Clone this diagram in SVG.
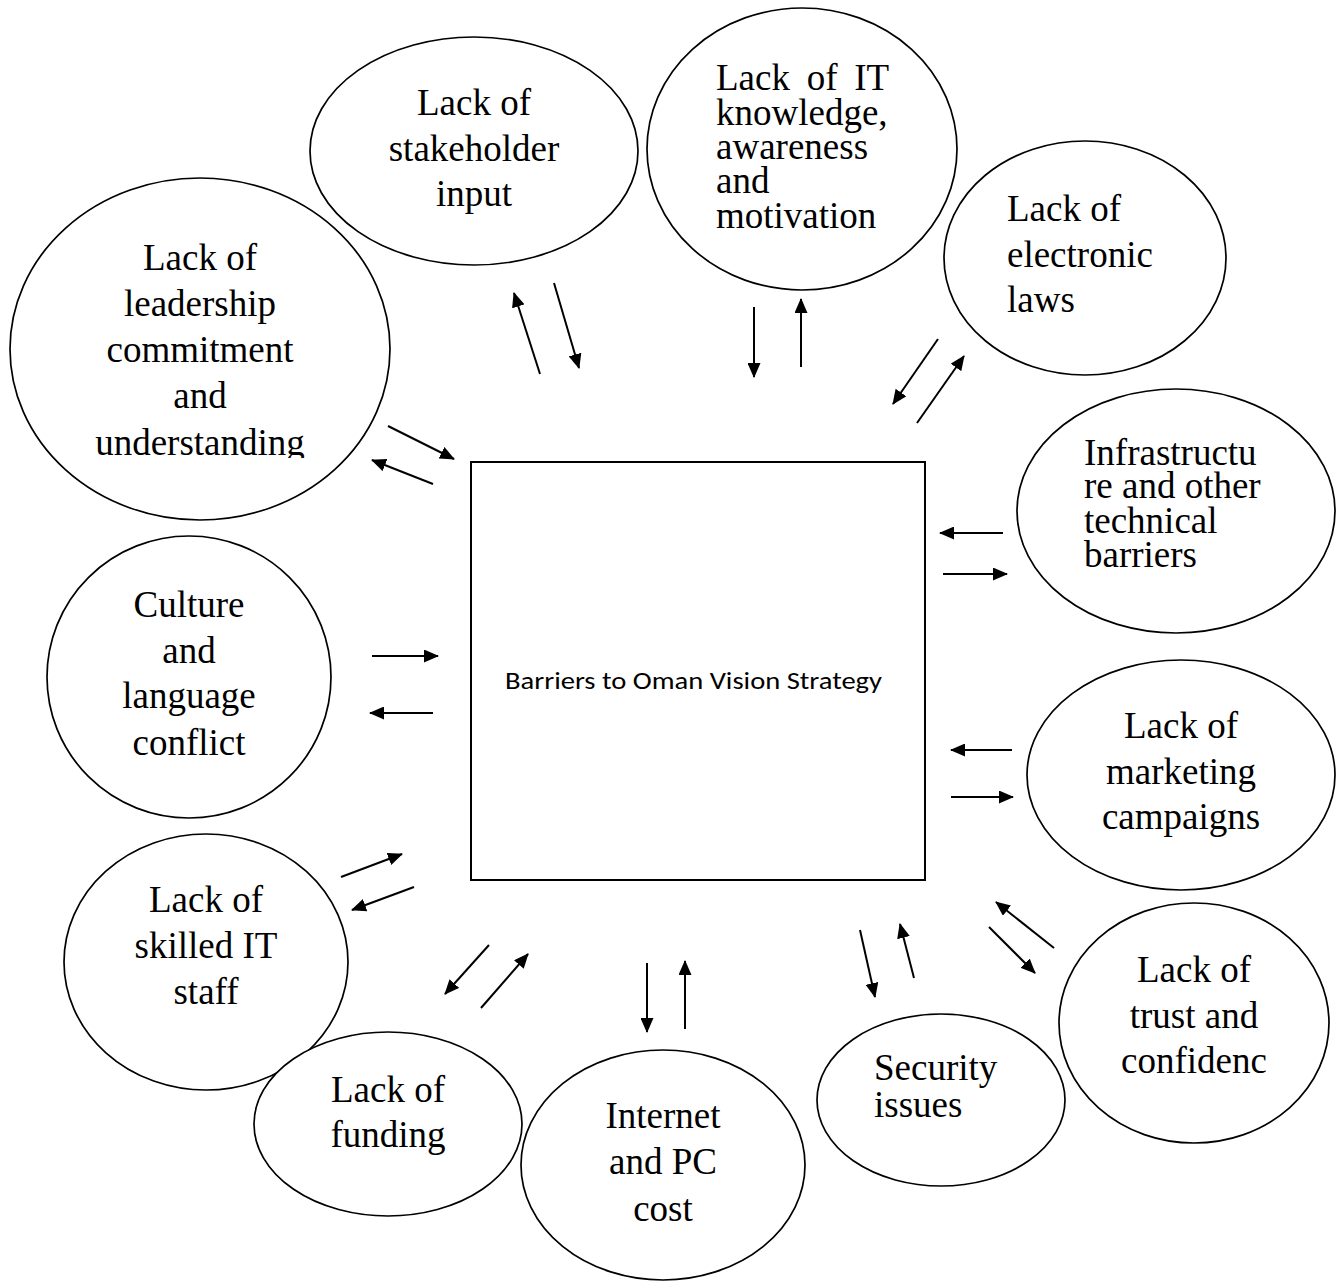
<svg xmlns="http://www.w3.org/2000/svg" width="1343" height="1283" viewBox="0 0 1343 1283">
  <defs>
    <style>
      .node { fill: #ffffff; stroke: #000000; stroke-width: 1.7; }
      .box { fill: #ffffff; stroke: #000000; stroke-width: 2; }
      .lbl { font-family: "Liberation Serif", "Times New Roman", serif; font-size: 37px; fill: #000000; }
      .mid { text-anchor: middle; }
      .core { font-family: Carlito, "Open Sans", "Noto Sans", sans-serif; font-size: 24px; fill: #000000; text-anchor: middle; }
      .link { stroke: #000000; stroke-width: 2; fill: none; marker-end: url(#head); }
    </style>
    <marker id="head" viewBox="0 0 15 13" refX="14" refY="6.5" markerWidth="15" markerHeight="13" markerUnits="userSpaceOnUse" orient="auto">
      <path d="M0,0 L15,6.5 L0,13 z" fill="#000000"/>
    </marker>
    <!-- the last line of the leadership label is cut off at its baseline -->
    <clipPath id="leadClip">
      <rect x="0" y="170" width="400" height="288"/>
    </clipPath>
  </defs>

  <rect x="0" y="0" width="1343" height="1283" fill="#ffffff"/>

  <!-- central box -->
  <g id="core">
    <rect class="box" x="471" y="462" width="454" height="418"/>
    <text class="core" x="693.5" y="689" textLength="377" lengthAdjust="spacingAndGlyphs">Barriers to Oman Vision Strategy</text>
  </g>

  <g id="leadership">
    <ellipse class="node" cx="200" cy="349" rx="190" ry="171"/>
    <g clip-path="url(#leadClip)">
      <text class="lbl mid" x="200" y="270">Lack of</text>
      <text class="lbl mid" x="200" y="316">leadership</text>
      <text class="lbl mid" x="200" y="362">commitment</text>
      <text class="lbl mid" x="200" y="408">and</text>
      <text class="lbl mid" x="200" y="455">understanding</text>
    </g>
  </g>

  <g id="stakeholder">
    <ellipse class="node" cx="474" cy="151" rx="164" ry="114"/>
    <text class="lbl mid" x="474" y="115">Lack of</text>
    <text class="lbl mid" x="474" y="161">stakeholder</text>
    <text class="lbl mid" x="474" y="206">input</text>
  </g>

  <g id="it-knowledge">
    <ellipse class="node" cx="802" cy="149" rx="155" ry="141"/>
    <text class="lbl" x="716" y="90" word-spacing="7.5">Lack of IT</text>
    <text class="lbl" x="716" y="125">knowledge,</text>
    <text class="lbl" x="716" y="159">awareness</text>
    <text class="lbl" x="716" y="193">and</text>
    <text class="lbl" x="716" y="228">motivation</text>
  </g>

  <g id="electronic-laws">
    <ellipse class="node" cx="1085" cy="258" rx="141" ry="117"/>
    <text class="lbl" x="1007" y="221">Lack of</text>
    <text class="lbl" x="1007" y="267">electronic</text>
    <text class="lbl" x="1007" y="312">laws</text>
  </g>

  <g id="infrastructure">
    <ellipse class="node" cx="1176" cy="511" rx="159" ry="122"/>
    <text class="lbl" x="1084" y="465">Infrastructu</text>
    <text class="lbl" x="1084" y="498">re and other</text>
    <text class="lbl" x="1084" y="533">technical</text>
    <text class="lbl" x="1084" y="567">barriers</text>
  </g>

  <g id="marketing">
    <ellipse class="node" cx="1181" cy="775" rx="154" ry="115"/>
    <text class="lbl mid" x="1181" y="738">Lack of</text>
    <text class="lbl mid" x="1181" y="784">marketing</text>
    <text class="lbl mid" x="1181" y="829">campaigns</text>
  </g>

  <g id="culture">
    <ellipse class="node" cx="189" cy="677" rx="142" ry="141"/>
    <text class="lbl mid" x="189" y="617">Culture</text>
    <text class="lbl mid" x="189" y="663">and</text>
    <text class="lbl mid" x="189" y="708">language</text>
    <text class="lbl mid" x="189" y="755">conflict</text>
  </g>

  <g id="skilled-staff">
    <ellipse class="node" cx="206" cy="962" rx="142" ry="128"/>
    <text class="lbl mid" x="206" y="912">Lack of</text>
    <text class="lbl mid" x="206" y="958">skilled IT</text>
    <text class="lbl mid" x="206" y="1004">staff</text>
  </g>

  <g id="funding">
    <ellipse class="node" cx="388" cy="1124" rx="134" ry="92"/>
    <text class="lbl mid" x="388" y="1102">Lack of</text>
    <text class="lbl mid" x="388" y="1147">funding</text>
  </g>

  <g id="internet-cost">
    <ellipse class="node" cx="663" cy="1165" rx="142" ry="115"/>
    <text class="lbl mid" x="663" y="1128">Internet</text>
    <text class="lbl mid" x="663" y="1174">and PC</text>
    <text class="lbl mid" x="663" y="1221">cost</text>
  </g>

  <g id="security">
    <ellipse class="node" cx="941" cy="1100" rx="124" ry="86"/>
    <text class="lbl" x="874" y="1080">Security</text>
    <text class="lbl" x="874" y="1117">issues</text>
  </g>

  <g id="trust">
    <ellipse class="node" cx="1194" cy="1023" rx="135" ry="120"/>
    <text class="lbl mid" x="1194" y="982">Lack of</text>
    <text class="lbl mid" x="1194" y="1028">trust and</text>
    <text class="lbl mid" x="1194" y="1073">confidenc</text>
  </g>

  <!-- two-way connectors between each barrier and the central box -->
  <g id="connectors">
    <line class="link" x1="388" y1="426" x2="454" y2="459"/>
    <line class="link" x1="433" y1="484" x2="372" y2="460"/>

    <line class="link" x1="540" y1="374" x2="514" y2="293"/>
    <line class="link" x1="554" y1="283" x2="579" y2="368"/>

    <line class="link" x1="754" y1="307" x2="754" y2="377"/>
    <line class="link" x1="801" y1="367" x2="801" y2="299"/>

    <line class="link" x1="938" y1="339" x2="893" y2="404"/>
    <line class="link" x1="917" y1="423" x2="964" y2="356"/>

    <line class="link" x1="1003" y1="533" x2="940" y2="533"/>
    <line class="link" x1="943" y1="574" x2="1007" y2="574"/>

    <line class="link" x1="1012" y1="750" x2="951" y2="750"/>
    <line class="link" x1="951" y1="797" x2="1013" y2="797"/>

    <line class="link" x1="372" y1="656" x2="438" y2="656"/>
    <line class="link" x1="433" y1="713" x2="370" y2="713"/>

    <line class="link" x1="341" y1="877" x2="402" y2="854"/>
    <line class="link" x1="414" y1="887" x2="352" y2="910"/>

    <line class="link" x1="489" y1="945" x2="445" y2="994"/>
    <line class="link" x1="481" y1="1008" x2="528" y2="954"/>

    <line class="link" x1="647" y1="963" x2="647" y2="1032"/>
    <line class="link" x1="685" y1="1029" x2="685" y2="961"/>

    <line class="link" x1="860" y1="930" x2="875" y2="997"/>
    <line class="link" x1="914" y1="978" x2="900" y2="924"/>

    <line class="link" x1="1054" y1="948" x2="996" y2="902"/>
    <line class="link" x1="989" y1="927" x2="1035" y2="973"/>
  </g>
</svg>
